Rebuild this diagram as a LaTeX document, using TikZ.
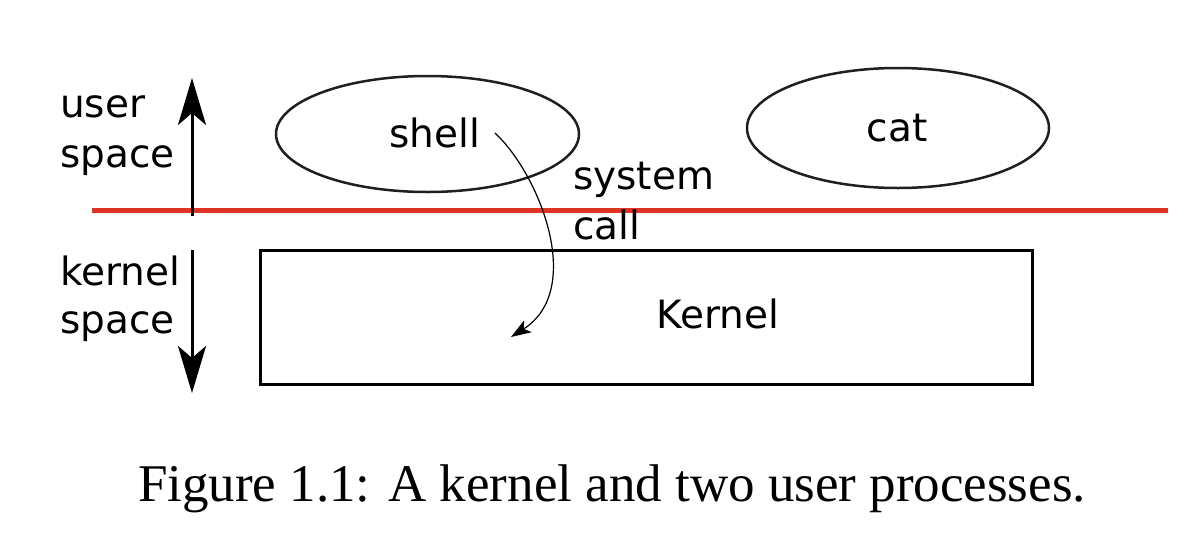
\documentclass[tikz,border=0pt]{standalone}
\usepackage{fontspec}
\setmainfont{DejaVu Sans}
\newfontfamily\capfont{Liberation Serif}
\usetikzlibrary{arrows.meta}
\definecolor{userred}{RGB}{222,52,36}
\begin{document}
\begin{tikzpicture}[x=1pt,y=-1pt,
  lbl/.style={inner sep=0pt,anchor=base west,font=\fontsize{39}{39}\selectfont},
  ctr/.style={inner sep=0pt,anchor=base,font=\fontsize{39}{39}\selectfont},
  proc/.style={draw=black!88,line width=2.5pt,ellipse,inner sep=0pt},
  bigarrow/.style={line width=3pt,-{Stealth[length=47pt,width=28pt,inset=12pt]}},
  callarrow/.style={line width=1.2pt,-{Stealth[length=20pt,width=14pt,inset=5pt]}}]
\useasboundingbox (0,0) rectangle (1202,552);
% processes
\draw[draw=black!88,line width=2.5pt] (427.5,134) ellipse [x radius=151.5,y radius=58];
\node[ctr] (shell) at (435,147) {shell};
\coordinate (shellc) at (427.5,134);
\draw[draw=black!88,line width=2.5pt] (898,128) ellipse [x radius=151,y radius=60];
\node[ctr] (cat) at (897,141) {cat};
% boundary
\coordinate (redL) at (92,210);
\coordinate (redR) at (1168,210);
\draw[userred,line width=5pt] (redL) -- (redR);
% kernel
\node[draw,line width=3pt,minimum width=772pt,minimum height=134pt,inner sep=0pt] (kbox) at (646,317) {};
\node[ctr] (kernel) at (718,328) {Kernel};
% side labels
\node[lbl] (user1) at (60,117) {user};
\node[lbl] (user2) at (60,167) {space};
\node[lbl] (kern1) at (60,285) {kernel};
\node[lbl] (kern2) at (60,333) {space};
\node[lbl] (sys1) at (573,189) {system};
\node[lbl] (sys2) at (573,239) {call};
% arrows
\coordinate (upS) at (192,216);
\coordinate (upE) at (192,78);
\coordinate (dnS) at (192,250);
\coordinate (dnE) at (192,393);
\draw[bigarrow] (upS) -- (upE);
\draw[bigarrow] (dnS) -- (dnE);
\coordinate (cS) at (495,133);
\coordinate (cE) at (511,337);
\draw[callarrow] (cS) .. controls (540,175) and (585,290) .. (cE);
% caption
\node[inner sep=0pt,anchor=base,font=\capfont\fontsize{53}{53}\selectfont] (cap) at (612,501) {Figure 1.1: A kernel and two user processes.};
\end{tikzpicture}
\end{document}
